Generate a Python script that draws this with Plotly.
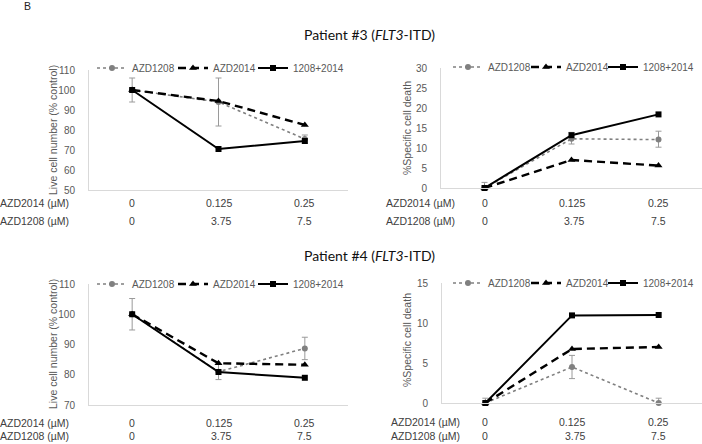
import plotly.graph_objects as go

W, H = 702, 444

# ---------------- data ----------------
doses_2014 = ["0", "0.125", "0.25"]
doses_1208 = ["0", "3.75", "7.5"]
cat_idx = [0, 1, 2]
series_names = ["AZD1208", "AZD2014", "1208+2014"]

# Patient #3 - live cell number (% control)
p3_live_1208 = [100, 94, 75.5]
p3_live_1208_err = [6, 12, 2]
p3_live_2014 = [100, 94.5, 82.5]
p3_live_combo = [100, 70.5, 74.5]

# Patient #3 - % specific cell death
p3_death_1208 = [0, 12.3, 12.1]
p3_death_1208_err_plus = [1.4, 1.6, 2.1]
p3_death_1208_err_minus = [0, 1.3, 1.9]
p3_death_2014 = [0, 7, 5.6]
p3_death_combo = [0, 13.2, 18.4]

# Patient #4 - live cell number (% control)
p4_live_1208 = [100, 81, 88.7]
p4_live_1208_err = [5.2, 2.6, 3.7]
p4_live_2014 = [100, 83.8, 83.3]
p4_live_combo = [100, 80.9, 79.0]

# Patient #4 - % specific cell death
p4_death_1208 = [0, 4.5, 0]
p4_death_1208_err_plus = [0.6, 1.45, 0.6]
p4_death_1208_err_minus = [0, 1.45, 0]
p4_death_2014 = [0, 6.75, 7.0]
p4_death_combo = [0, 10.95, 11.0]

# ---------------- helpers ----------------
def px_x(p):
    return p / W

def px_y(p):
    return 1 - p / H

GREY = "#808080"
TXT = "#404040"
TICK = "#595959"
AXL = "#d9d9d9"
FONT = "Liberation Sans, Arial, sans-serif"

fig = go.Figure()

# per panel: axes, legend item left positions (line start px), legend y px, data
panels = [
    ("x", "y", [101, 182, 262], 68, p3_live_1208, p3_live_1208_err, p3_live_1208_err, p3_live_2014, p3_live_combo),
    ("x2", "y2", [457, 535, 612], 67, p3_death_1208, p3_death_1208_err_plus, p3_death_1208_err_minus, p3_death_2014, p3_death_combo),
    ("x3", "y3", [101, 182, 262], 284, p4_live_1208, p4_live_1208_err, p4_live_1208_err, p4_live_2014, p4_live_combo),
    ("x4", "y4", [457, 535, 612], 283, p4_death_1208, p4_death_1208_err_plus, p4_death_1208_err_minus, p4_death_2014, p4_death_combo),
]

lay = {}
leg_n = 0
for xa, ya, leg_x, leg_y, d1208, ep, em, d2014, dcombo in panels:
    names = []
    for j in range(3):
        leg_n += 1
        lname = "legend" if leg_n == 1 else f"legend{leg_n}"
        names.append(lname)
        lay[lname] = dict(x=px_x(leg_x[j] - 9), y=px_y(leg_y), xanchor="left", yanchor="middle",
                          orientation="h", bgcolor="rgba(0,0,0,0)", borderwidth=0,
                          font=dict(family=FONT, size=10, color=TICK), itemwidth=30)
    fig.add_trace(go.Scatter(
        x=cat_idx, y=d1208, name=series_names[0], xaxis=xa, yaxis=ya, legend=names[0],
        mode="lines+markers", cliponaxis=False, showlegend=True,
        line=dict(color=GREY, width=1.6, dash="dot"),
        marker=dict(symbol="circle", size=6, color=GREY),
        error_y=dict(type="data", array=ep, arrayminus=em, symmetric=False,
                     color="#9a9a9a", thickness=1, width=3),
    ))
    fig.add_trace(go.Scatter(
        x=cat_idx, y=d2014, name=series_names[1], xaxis=xa, yaxis=ya, legend=names[1],
        mode="lines+markers", cliponaxis=False, showlegend=True,
        line=dict(color="black", width=2.4, dash="8px,5px"),
        marker=dict(symbol="triangle-up", size=7, color="black"),
    ))
    fig.add_trace(go.Scatter(
        x=cat_idx, y=dcombo, name=series_names[2], xaxis=xa, yaxis=ya, legend=names[2],
        mode="lines+markers", cliponaxis=False, showlegend=True,
        line=dict(color="black", width=2),
        marker=dict(symbol="square", size=6, color="black"),
    ))

# ---------------- axes ----------------
geo = {
    "1": (89, 348, 70, 190, [50, 110], 10),
    "2": (441, 702, 68, 188, [0, 30], 5),
    "3": (89, 348, 284, 405, [70, 110], 10),
    "4": (442, 702, 283, 403, [0, 15], 5),
}
for k, (xl, xr, yt, yb, yr, dt) in geo.items():
    xs = "xaxis" if k == "1" else f"xaxis{k}"
    ys = "yaxis" if k == "1" else f"yaxis{k}"
    anchor_y = "y" if k == "1" else f"y{k}"
    anchor_x = "x" if k == "1" else f"x{k}"
    lay[xs] = dict(domain=[px_x(xl), px_x(xr)], range=[-0.5, 2.5], anchor=anchor_y,
                   showline=True, linecolor=AXL, linewidth=1, showgrid=False,
                   zeroline=False, showticklabels=False, ticks="", fixedrange=True)
    lay[ys] = dict(domain=[px_y(yb), px_y(yt)], range=yr, dtick=dt, anchor=anchor_x,
                   showline=True, linecolor=AXL, linewidth=1, showgrid=False,
                   zeroline=False, ticks="", ticklabelstandoff=11,
                   tickfont=dict(family=FONT, size=10, color=TICK), fixedrange=True)

fig.update_layout(
    width=W, height=H, margin=dict(l=0, r=0, t=0, b=0, autoexpand=False),
    paper_bgcolor="white", plot_bgcolor="white", showlegend=True,
    font=dict(family=FONT, size=11, color=TXT),
    **lay,
)

# ---------------- text annotations ----------------
ann = []
ann.append(dict(text="B", x=px_x(22), y=px_y(6), xref="paper", yref="paper",
                xanchor="left", yanchor="middle", showarrow=False,
                font=dict(family=FONT, size=10.5, color="#222")))
for title, ty in [("Patient #3 (<i>FLT3</i>-ITD)", 34), ("Patient #4 (<i>FLT3</i>-ITD)", 255)]:
    ann.append(dict(text=title, x=px_x(369), y=px_y(ty), xref="paper", yref="paper",
                    xanchor="center", yanchor="middle", showarrow=False,
                    font=dict(family="Lato, Open Sans, sans-serif", size=14, color="#111")))

ytitles = [
    ("Live cell number (% control)", 53, 130),
    ("%Specific cell death", 407, 128),
    ("Live cell number (% control)", 53, 344),
    ("%Specific cell death", 407, 340),
]
for t, tx, ty in ytitles:
    ann.append(dict(text=t, x=px_x(tx), y=px_y(ty), xref="paper", yref="paper",
                    xanchor="center", yanchor="middle", textangle=-90, showarrow=False,
                    font=dict(family=FONT, size=10.5, color=TICK)))

tables = [
    ("x", 71, 203, 221),
    ("x2", 457, 203, 221),
    ("x3", 71, 423, 436),
    ("x4", 462, 422, 436),
]
for xr, hx, r1, r2 in tables:
    ann.append(dict(text="AZD2014 (µM)", x=px_x(hx), y=px_y(r1), xref="paper", yref="paper",
                    xanchor="right", yanchor="middle", showarrow=False,
                    font=dict(family=FONT, size=10.5, color=TXT)))
    ann.append(dict(text="AZD1208 (µM)", x=px_x(hx), y=px_y(r2), xref="paper", yref="paper",
                    xanchor="right", yanchor="middle", showarrow=False,
                    font=dict(family=FONT, size=10.5, color=TXT)))
    for i, (a, b) in enumerate(zip(doses_2014, doses_1208)):
        ann.append(dict(text=a, x=cat_idx[i], y=px_y(r1), xref=xr, yref="paper",
                        xanchor="center", yanchor="middle", showarrow=False,
                        font=dict(family=FONT, size=10.5, color=TXT)))
        ann.append(dict(text=b, x=cat_idx[i], y=px_y(r2), xref=xr, yref="paper",
                        xanchor="center", yanchor="middle", showarrow=False,
                        xshift=3 if i == 1 else 0,
                        font=dict(family=FONT, size=10.5, color=TXT)))

fig.update_layout(annotations=ann)
fig.write_html(
    "out.html", config={"displayModeBar": False},
    post_script=(
        "document.documentElement.style.margin='0';"
        "document.documentElement.style.overflow='hidden';"
        "document.body.style.margin='0';document.body.style.padding='0';"
        "document.body.style.overflow='hidden';"
    ),
)
